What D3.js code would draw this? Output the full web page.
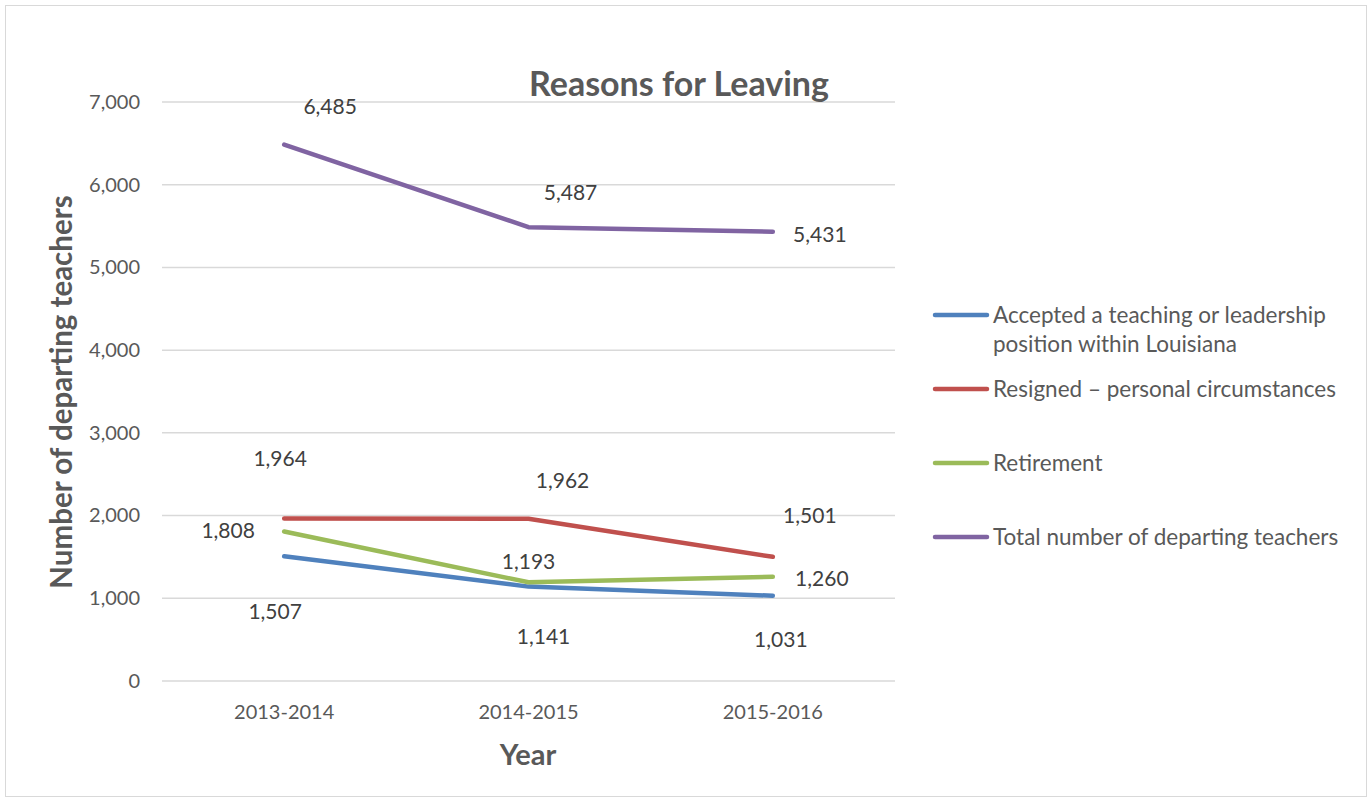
<!DOCTYPE html>
<html>
<head>
<meta charset="utf-8">
<script src="https://cdn.jsdelivr.net/npm/d3@7"></script>
<style>
  body { margin: 0; background: #fff; }
  svg { font-family: Lato, "Liberation Sans", sans-serif; }
</style>
</head>
<body>
<svg id="chart" width="1372" height="802"></svg>
<script>
// chart data
const years = ["2013-2014", "2014-2015", "2015-2016"];
const accepted = [1507, 1141, 1031];
const resigned = [1964, 1962, 1501];
const retirement = [1808, 1193, 1260];
const totalDeparting = [6485, 5487, 5431];
const yTicks = [0, 1000, 2000, 3000, 4000, 5000, 6000, 7000];

// where each value label sits relative to its point (dx, dy)
const acceptedLabelPos = [[-9, 55], [15, 50], [8, 44]];
const resignedLabelPos = [[-4, -60], [34, -38], [37, -41]];
const retirementLabelPos = [[-56, -1], [0, -21], [49, 2]];
const totalLabelPos = [[46, -38], [42, -34], [47, 3]];

const series = [
  { name: ["Accepted a teaching or leadership", "position within Louisiana"], values: accepted, color: "#4F81BD", labels: acceptedLabelPos },
  { name: ["Resigned \u2013 personal circumstances"], values: resigned, color: "#C0504D", labels: resignedLabelPos },
  { name: ["Retirement"], values: retirement, color: "#9BBB59", labels: retirementLabelPos },
  { name: ["Total number of departing teachers"], values: totalDeparting, color: "#8064A2", labels: totalLabelPos }
];

const svg = d3.select("#chart");

// outer frame
svg.append("rect")
  .attr("x", 5.5).attr("y", 5.5)
  .attr("width", 1361).attr("height", 791)
  .attr("fill", "none")
  .attr("stroke", "#d9d9d9");

const x = d3.scaleBand().domain(years).range([162, 895]);
const y = d3.scaleLinear().domain([0, 7000]).range([681, 102]);

// gridlines
svg.append("g")
  .selectAll("line")
  .data(yTicks)
  .join("line")
  .attr("x1", 162).attr("x2", 895)
  .attr("y1", d => y(d)).attr("y2", d => y(d))
  .attr("stroke", "#d9d9d9")
  .attr("stroke-width", 1.5);

// y axis
const yAxis = svg.append("g")
  .attr("transform", "translate(162,0)")
  .call(d3.axisLeft(y).tickValues(yTicks).tickFormat(d3.format(",")).tickSize(0).tickPadding(22));
yAxis.select(".domain").remove();
yAxis.selectAll("text")
  .attr("font-size", 20)
  .attr("font-family", "Lato, sans-serif")
  .attr("fill", "#595959");

// x axis
const xAxis = svg.append("g")
  .attr("transform", "translate(0,681)")
  .call(d3.axisBottom(x).tickSize(0).tickPadding(24));
xAxis.select(".domain").remove();
xAxis.selectAll("text")
  .attr("font-size", 20)
  .attr("font-family", "Lato, sans-serif")
  .attr("fill", "#595959");

// title
svg.append("text")
  .attr("x", 679).attr("y", 96)
  .attr("text-anchor", "middle")
  .attr("font-size", 34)
  .attr("font-weight", "bold")
  .attr("fill", "#595959")
  .text("Reasons for Leaving");

// axis titles
svg.append("text")
  .attr("transform", "translate(72,392) rotate(-90)")
  .attr("text-anchor", "middle")
  .attr("font-size", 29.5)
  .attr("font-weight", "bold")
  .attr("fill", "#595959")
  .text("Number of departing teachers");

svg.append("text")
  .attr("x", 528).attr("y", 765)
  .attr("text-anchor", "middle")
  .attr("font-size", 29)
  .attr("font-weight", "bold")
  .attr("fill", "#595959")
  .text("Year");

// lines
const line = d3.line()
  .x((d, i) => x(years[i]) + x.bandwidth() / 2)
  .y(d => y(d));

svg.append("g")
  .selectAll("path")
  .data(series)
  .join("path")
  .attr("d", s => line(s.values))
  .attr("fill", "none")
  .attr("stroke", s => s.color)
  .attr("stroke-width", 4.5)
  .attr("stroke-linecap", "round")
  .attr("stroke-linejoin", "round");

// value labels
series.forEach(s => {
  svg.append("g")
    .selectAll("text")
    .data(s.values)
    .join("text")
    .attr("x", (d, i) => x(years[i]) + x.bandwidth() / 2 + s.labels[i][0])
    .attr("y", (d, i) => y(d) + s.labels[i][1])
    .attr("dy", "0.35em")
    .attr("text-anchor", "middle")
    .attr("font-size", 21)
    .attr("fill", "#404040")
    .text(d => d3.format(",")(d));
});

// legend
const legendY = [315, 389, 463, 537];
const legend = svg.append("g")
  .selectAll("g")
  .data(series)
  .join("g")
  .attr("transform", (s, i) => `translate(0,${legendY[i]})`);

legend.append("line")
  .attr("x1", 935).attr("x2", 987)
  .attr("stroke", d => d.color)
  .attr("stroke-width", 4.5)
  .attr("stroke-linecap", "round");

legend.append("text")
  .attr("x", 993)
  .attr("font-size", 22.5)
  .attr("fill", "#595959")
  .selectAll("tspan")
  .data(s => s.name)
  .join("tspan")
  .attr("x", 993)
  .attr("y", (d, i) => i * 29)
  .attr("dy", "0.35em")
  .text(d => d);
</script>
</body>
</html>
